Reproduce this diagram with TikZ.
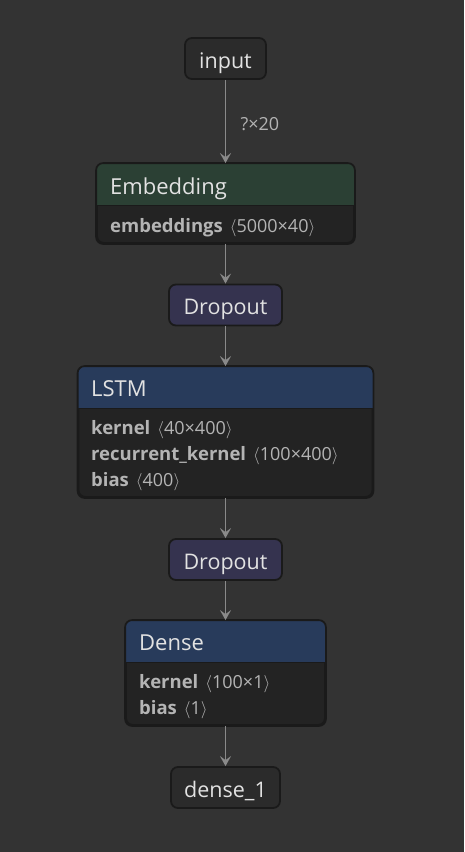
\documentclass[tikz,border=0pt]{standalone}
\usepackage{fontspec}
\setmainfont{Open Sans}
\usepackage{tikz}
\usetikzlibrary{calc,arrows.meta,positioning}
\definecolor{bgc}{HTML}{333333}
\definecolor{plainc}{HTML}{2B2B2B}
\definecolor{bodyc}{HTML}{232323}
\definecolor{edgec}{HTML}{1A1A1A}
\definecolor{embc}{HTML}{2B4034}
\definecolor{dropc}{HTML}{35334F}
\definecolor{layc}{HTML}{283B5B}
\definecolor{txtc}{HTML}{E2E2E2}
\definecolor{attc}{HTML}{B4B4B4}
\definecolor{arc}{HTML}{8A8A8A}
\tikzset{
  ar/.style={-{Stealth[length=10pt,width=11pt,inset=4pt]},line width=1.6pt,arc},
  nd/.style={draw=edgec,line width=1.8pt,rounded corners=7pt,inner sep=0pt,text height=20pt,text depth=1pt,font=\fontsize{21.5}{24}\selectfont,text=txtc},
  blk/.style={draw=edgec,line width=1.8pt,rounded corners=7pt,inner sep=0pt,fill=bodyc},
  ttl/.style={anchor=base west,inner sep=0pt,font=\fontsize{22}{24}\selectfont,text=txtc},
  att/.style={anchor=base west,inner sep=0pt,font=\fontsize{18.5}{20}\selectfont,text=attc}
}
\newcommand{\dims}[1]{\hspace{7pt}{\fontsize{18}{20}\selectfont$\langle$#1$\rangle$}}
\begin{document}
\begin{tikzpicture}[x=1pt,y=-1pt]
\fill[bgc] (0,0) rectangle (464,852);
\useasboundingbox (0,0) rectangle (464,852);
% plain and dropout nodes
\node[nd,fill=plainc,minimum width=81pt,minimum height=41pt] (in) at (225.5,58.5) {input};
\node[nd,fill=dropc,minimum width=113pt,minimum height=41pt] (dr1) at (225.5,305) {Dropout};
\node[nd,fill=dropc,minimum width=113pt,minimum height=41pt] (dr2) at (225.5,559.5) {Dropout};
\node[nd,fill=plainc,minimum width=109pt,minimum height=41pt] (out) at (225.5,787.5) {dense\_1};
% layer boxes
\node[blk,minimum width=257pt,minimum height=79pt] (emb) at (225.5,203.5) {};
\node[blk,minimum width=294pt,minimum height=130pt] (lstm) at (225.5,432) {};
\node[blk,minimum width=199pt,minimum height=104pt] (dns) at (225.5,673) {};
\foreach \b/\c in {emb/embc,lstm/layc,dns/layc}{
  \begin{scope}
    \clip[rounded corners=7pt] (\b.north west) rectangle (\b.south east);
    \fill[\c] (\b.north west) rectangle ($(\b.north east)+(0,42)$);
  \end{scope}
  \draw[edgec,line width=1.2pt] ($(\b.north west)+(0,42)$) -- ($(\b.north east)+(0,42)$);
  \draw[edgec,line width=1.8pt,rounded corners=7pt] (\b.north west) rectangle (\b.south east);
}
% titles and weights
\node[ttl] (embt) at (110,194) {Embedding};
\node[att] (emba) at (110,232) {\textbf{embeddings}\dims{5000×40}};
\node[ttl] (lstmt) at (91,396) {LSTM};
\node[att] (lstma) at (91,434) {\textbf{kernel}\dims{40×400}};
\node[att] (lstmb) at (91,460) {\textbf{recurrent\_kernel}\dims{100×400}};
\node[att] (lstmc) at (91,486) {\textbf{bias}\dims{400}};
\node[ttl] (dnst) at (139,650) {Dense};
\node[att] (dnsa) at (139,688) {\textbf{kernel}\dims{100×1}};
\node[att] (dnsb) at (139,714) {\textbf{bias}\dims{1}};
% edges
\draw[ar] (in) -- (emb.north) node[midway,right=11pt,yshift=-3pt,font=\fontsize{18}{20}\selectfont,text=attc]{?×20};
\draw[ar] (emb) -- (dr1);
\draw[ar] (dr1) -- (lstm.north);
\draw[ar] (lstm) -- (dr2);
\draw[ar] (dr2) -- (dns.north);
\draw[ar] (dns) -- (out);
\end{tikzpicture}
\end{document}
